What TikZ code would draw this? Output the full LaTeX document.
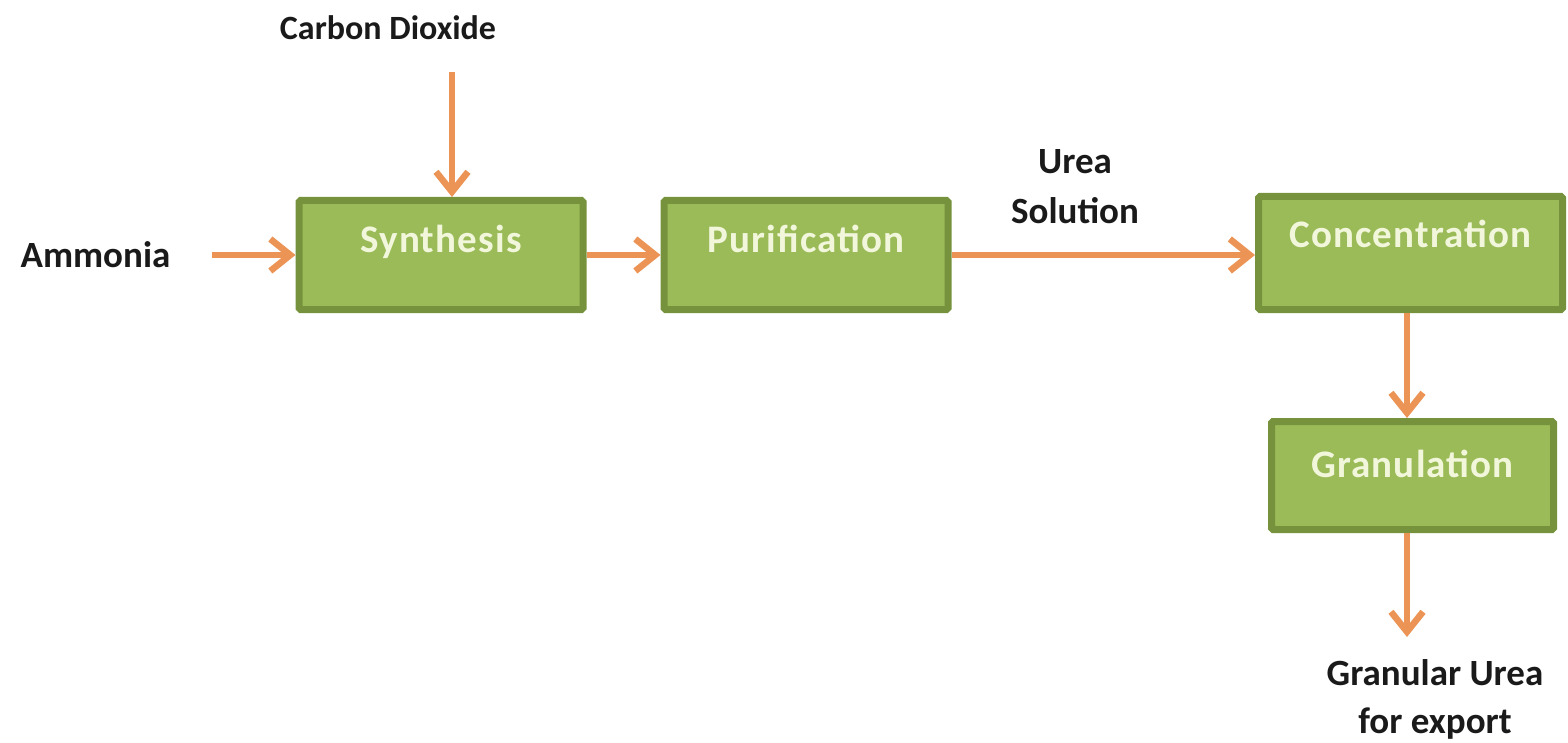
\documentclass[tikz,border=0pt]{standalone}
\usepackage{fontspec}
\setmainfont{Carlito}
\newfontfamily\boxfont[LetterSpace=3]{Carlito}
\usetikzlibrary{arrows.meta}
\definecolor{boxfill}{HTML}{9BBB59}
\definecolor{boxline}{HTML}{76923C}
\definecolor{flow}{RGB}{236,148,86}
\definecolor{boxtext}{HTML}{F2F7DC}
\definecolor{ink}{HTML}{1A1A1A}
\tikzset{
  stagebox/.style={draw=boxline, fill=boxfill, line width=7pt, rounded corners=1.5pt,
    text=boxtext, font=\boxfont\fontsize{39}{44}\selectfont\bfseries, inner sep=0pt, text height=26pt},
  tag/.style={text=ink, font=\fontsize{37}{50}\selectfont\bfseries, align=center, inner sep=0pt},
  flowline/.style={draw=flow, line width=6pt, -{Straight Barb[length=20pt,width=32pt,line width=6.5pt]}},
}
\begin{document}
\begin{tikzpicture}[x=1pt,y=-1pt]
\useasboundingbox (0,0) rectangle (1568,743);
\fill[white] (0,0) rectangle (1568,743);
\node[stagebox, minimum width=284pt, minimum height=109pt, text depth=30pt] (syn) at (441,255) {Synthesis};
\node[stagebox, minimum width=284pt, minimum height=109pt, text depth=30pt] (pur) at (806,255) {Purification};
\node[stagebox, minimum width=304pt, minimum height=113pt, text depth=36pt] (con) at (1410.5,253) {Concentration};
\node[stagebox, minimum width=282pt, minimum height=108pt, text depth=23pt] (gra) at (1412.5,475.5) {Granulation};
\node[tag] (amm) at (95.5,255) {Ammonia};
\node[tag, font=\fontsize{34}{40}\selectfont\bfseries] (co2) at (388,28) {Carbon Dioxide};
\node[tag] (urea) at (1075,187) {Urea\\Solution};
\node[tag, font=\fontsize{37}{48}\selectfont\bfseries] (out) at (1435,699) {Granular Urea\\for export};
\coordinate (ammend) at (212,255);
\coordinate (co2end) at (452,72);
\coordinate (outend) at (1407,637);
\draw[flowline] (ammend) -- (syn.west);
\draw[flowline] (co2end) -- (co2end |- syn.north);
\draw[flowline] (syn.east) -- (pur.west);
\draw[flowline] (pur.east) -- (pur.east -| con.west);
\draw[flowline] (con.south -| outend) -- (gra.north -| outend);
\draw[flowline] (gra.south -| outend) -- (outend);
\end{tikzpicture}
\end{document}
